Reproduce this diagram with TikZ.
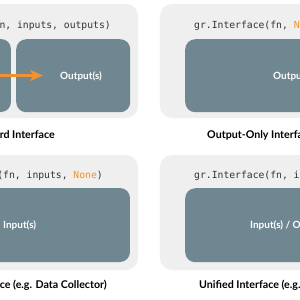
\documentclass[tikz,border=0pt]{standalone}
\usepackage{fontspec}
\setmainfont{Lato}
\newfontfamily\codefont{DejaVu Sans Mono}
\usetikzlibrary{arrows.meta}
\definecolor{panelbg}{HTML}{EFEFEF}
\definecolor{boxbg}{HTML}{6F8791}
\definecolor{accent}{HTML}{F0922E}
\definecolor{codetxt}{HTML}{333333}
\tikzset{
  panel/.style={fill=panelbg, draw=none, rounded corners=12*0.3mm},
  comp/.style={fill=boxbg, draw=none, rounded corners=10*0.3mm},
  code/.style={font=\codefont\fontsize{8.3}{10}\selectfont, text=codetxt, inner sep=0pt},
  comptext/.style={font=\fontsize{8.5}{10}\selectfont\bfseries, text=white, inner sep=0pt},
  caption/.style={font=\fontsize{9.1}{11}\selectfont\bfseries, text=black, inner sep=0pt},
  flow/.style={draw=accent, line width=2pt, -{Stealth[length=11pt,width=9.5pt,inset=3pt]}}
}
\begin{document}
\begin{tikzpicture}[x=0.3mm,y=-0.3mm]
\useasboundingbox (0,0) rectangle (300,300);
\clip (0,0) rectangle (300,300);
\fill[white] (0,0) rectangle (300,300);
% panels
\fill[panel] (-150,4) rectangle (138,118);
\fill[panel] (160,4) rectangle (450,118);
\fill[panel] (-150,155) rectangle (138,270);
\fill[panel] (160,155) rectangle (450,270);
% top-left: standard interface
\node[code, anchor=base east] (c1) at (111,28) {gr.Interface(fn, inputs, outputs)};
\path[comp] (-130,39) rectangle (11,112);
\coordinate (inA) at (-60,75.5);
\node[comp, minimum width=114*0.3mm, minimum height=73*0.3mm, anchor=north west] (out1) at (16,39) {};
\node[comptext, anchor=west] (t1) at (60,76) {Output(s)};
\coordinate (tip) at (43,75.5);
\draw[flow] (inA) -- (tip);
\node[caption, anchor=base east] (cap1) at (55,138) {Standard Interface};
% top-right: output-only
\node[code, anchor=base west] (c2) at (194,28) {gr.Interface(fn, \textcolor{accent}{None}, outputs)};
\node[comp, minimum width=250*0.3mm, minimum height=73*0.3mm, anchor=north west] (out2) at (185,39) {};
\node[comptext, anchor=west] (t2) at (273,76) {Output(s)};
\node[caption, anchor=base west] (cap2) at (207,138) {Output-Only Interface};
% bottom-left: input-only
\node[code, anchor=base east] (c3) at (103,178) {gr.Interface(fn, inputs, \textcolor{accent}{None})};
\path[comp] (-130,188) rectangle (130,262);
\node[comptext, anchor=west] (t3) at (3,225) {Input(s)};
\node[caption, anchor=base east] (cap3) at (107,288) {Input-Only Interface (e.g. Data Collector)};
% bottom-right: unified
\node[code, anchor=base west] (c4) at (194,178) {gr.Interface(fn, inputs, outputs)};
\node[comp, minimum width=250*0.3mm, minimum height=74*0.3mm, anchor=north west] (io) at (185,188) {};
\node[comptext, anchor=west] (t4) at (250,225) {Input(s) / Output(s)};
\node[caption, anchor=base west] (cap4) at (199,288) {Unified Interface (e.g. Text Generation)};
\end{tikzpicture}
\end{document}
